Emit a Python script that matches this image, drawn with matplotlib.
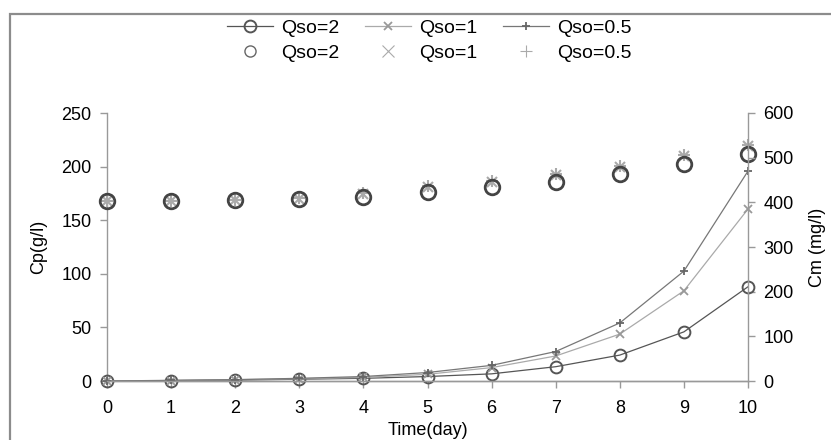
import matplotlib
matplotlib.use("Agg")
import matplotlib.pyplot as plt
from matplotlib.lines import Line2D
from matplotlib.patches import Rectangle

plt.rcParams["font.family"] = ["Liberation Sans", "DejaVu Sans"]

days = list(range(11))

# Cp (g/l), left axis - scatter points
cp_q2 = [168, 168, 168.5, 169.5, 172, 176, 180.7, 185.4, 193, 202, 211.6]
cp_q1 = [168, 168, 169, 170, 174, 181, 186, 192, 200, 210, 219]
cp_q05 = [168, 168, 169, 171, 175, 182, 187, 193, 201, 211, 220]

# Cm (mg/l), right axis - lines
cm_q2 = [0, 1, 2, 4, 6, 10, 16, 32, 58, 110, 211]
cm_q1 = [0, 1, 3, 5, 8, 15, 30, 56, 105, 202, 385]
cm_q05 = [0, 1.5, 3, 6, 10, 19, 35, 66, 130, 246, 470]

labels = ["Qso=2", "Qso=1", "Qso=0.5"]

W, H = 831, 440
fig = plt.figure(figsize=(W / 100, H / 100), dpi=100)

# outer chart frame (cropped at right/bottom)
fig.patches.append(Rectangle((10 / W, -0.1), 1.2, (H - 14) / H + 0.1,
                             transform=fig.transFigure, fill=False,
                             edgecolor="#8c8c8c", linewidth=1.6))

ax = fig.add_axes([107 / W, (H - 381) / H, (748 - 107) / W, (381 - 113) / H])
ax2 = ax.twinx()

spine_c = "#999999"
for a in (ax, ax2):
    a.patch.set_visible(False)
    a.spines["top"].set_visible(False)
    for s in ("left", "right", "bottom"):
        a.spines[s].set_color(spine_c)
        a.spines[s].set_linewidth(1.0)
    a.tick_params(colors=spine_c, labelcolor="black", length=5, width=1.0,
                  labelsize=13)
ax.spines["right"].set_visible(False)
ax2.spines["left"].set_visible(False)

# lines on right axis
line_styles = [
    (cm_q2, "#555555", "o", dict(markersize=8.5, markerfacecolor="none", markeredgewidth=1.4, markeredgecolor="#555555")),
    (cm_q1, "#aaaaaa", "x", dict(markersize=6, markeredgewidth=1.3, markeredgecolor="#999999")),
    (cm_q05, "#777777", "+", dict(markersize=6, markeredgewidth=1.3, markeredgecolor="#666666")),
]
line_handles = []
for (vals, col, mk, kw), lab in zip(line_styles, labels):
    h, = ax2.plot(days, vals, color=col, lw=0.9, marker=mk, clip_on=False,
                  label=lab, **kw)
    line_handles.append(h)

# scatter points on left axis
ax.plot(days, cp_q1, ls="none", marker="x", markersize=7, markeredgewidth=1.5,
        color="#aaaaaa", clip_on=False, zorder=3)
ax.plot(days, cp_q05, ls="none", marker="+", markersize=9, markeredgewidth=1.5,
        color="#aaaaaa", clip_on=False, zorder=3)
ax.plot(days, cp_q2, ls="none", marker="o", markersize=10.5, markerfacecolor="none",
        markeredgewidth=2.0, markeredgecolor="#444444", clip_on=False, zorder=4)

ax.set_xlim(0, 10)
ax.set_ylim(0, 250)
ax2.set_ylim(0, 600)
ax.set_xticks(days)
ax.set_yticks(range(0, 251, 50))
ax2.set_yticks(range(0, 601, 100))
ax.tick_params(axis="x", pad=9)
ax.tick_params(axis="y", pad=6)
ax2.tick_params(axis="y", pad=6)

ax.set_xlabel("Time(day)", fontsize=13, labelpad=3)
ax.set_ylabel("Cp(g/l)", fontsize=13, labelpad=10)
ax2.set_ylabel("Cm (mg/l)", fontsize=13, labelpad=11)

# legend: top row lines, bottom row markers
sc_handles = [
    Line2D([], [], ls="none", marker="o", markersize=8, markerfacecolor="none",
           markeredgecolor="#666666", markeredgewidth=1.0),
    Line2D([], [], ls="none", marker="x", markersize=8, markeredgecolor="#aaaaaa",
           markeredgewidth=0.8),
    Line2D([], [], ls="none", marker="+", markersize=8, markeredgecolor="#aaaaaa",
           markeredgewidth=0.8),
]
handles, names = [], []
for lh, sh, lab in zip(line_handles, sc_handles, labels):
    handles += [lh, sh]
    names += [lab, lab]
fig.legend(handles, names, ncol=3, loc="upper center",
           bbox_to_anchor=(429 / W, (H - 2) / H), frameon=False,
           fontsize=14, handlelength=2.4, handletextpad=0.4,
           columnspacing=1.3, labelspacing=0.38)

fig.savefig("out.png", dpi=100)
